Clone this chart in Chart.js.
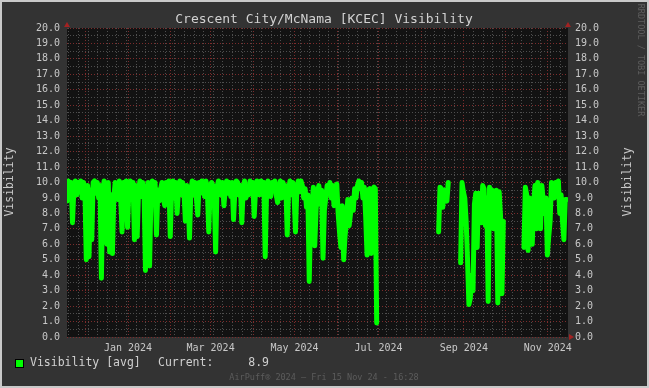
<!DOCTYPE html>
<html>
<head>
<meta charset="utf-8">
<script src="https://cdn.jsdelivr.net/npm/chart.js@4.4.1/dist/chart.umd.min.js"></script>
<style>
  html, body { margin: 0; padding: 0; background: #333; }
  canvas { display: block; }
</style>
</head>
<body>
<canvas id="chart" width="649" height="388"></canvas>
<script>
const chartTitle = 'Crescent City/McNama [KCEC] Visibility';
const axisTitle = 'Visibility';
const seriesLabel = 'Visibility [avg]';
const footerText = 'AirPuff\u00ae 2024 \u2013 Fri 15 Nov 24 - 16:28';
const watermark = 'RRDTOOL / TOBI OETIKER';

// one average per day, first day starts at rangeStart
const rangeStart = Date.UTC(2023, 10, 17, 16, 20);
const rangeEnd = Date.UTC(2024, 10, 15, 16, 20);
const visibility = [
  8.8, 10.1, 9.3, 10.0, 7.4, 9.6, 10.1, 9.2, 10.0, 9.4,
  10.1, 9.0, 10.0, 9.6, 5.0, 9.8, 5.2, 9.5, 6.3, 10.0,
  10.1, 9.3, 10.0, 9.0, 9.8, 3.8, 9.5, 10.1, 9.4, 6.0,
  10.0, 5.5, 9.2, 5.4, 9.0, 10.0, 9.8, 8.9, 10.1, 9.0,
  6.8, 10.0, 9.2, 10.1, 7.1, 9.6, 10.1, 9.0, 10.0, 6.3,
  9.8, 6.5, 9.5, 10.1, 9.1, 10.0, 9.4, 4.3, 9.0, 10.0,
  4.6, 9.2, 10.1, 9.0, 10.0, 6.6, 9.5, 8.8, 9.6, 10.0,
  9.0, 8.5, 10.0, 9.3, 10.1, 6.5, 9.4, 10.1, 9.0, 10.0,
  8.0, 9.6, 10.1, 9.2, 10.0, 9.4, 7.5, 9.8, 9.0, 6.4,
  9.5, 10.1, 9.2, 10.0, 9.0, 7.9, 10.0, 9.3, 10.1, 10.0,
  9.1, 10.1, 9.4, 6.8, 9.6, 10.0, 9.8, 9.0, 5.5, 9.7,
  10.1, 10.0, 9.2, 10.0, 8.5, 9.6, 10.1, 9.3, 10.0, 9.1,
  10.0, 7.6, 9.5, 10.1, 10.0, 9.2, 9.8, 7.4, 9.6, 10.1,
  9.0, 9.7, 9.2, 10.1, 9.4, 10.0, 7.8, 9.5, 10.1, 10.0,
  9.2, 10.1, 9.6, 10.0, 5.2, 9.4, 10.1, 9.3, 9.1, 10.0,
  9.5, 10.1, 9.2, 8.7, 9.6, 10.1, 9.0, 10.0, 9.3, 9.8,
  6.6, 9.5, 10.1, 9.2, 10.0, 9.1, 6.8, 9.6, 10.1, 9.4,
  10.1, 9.8, 9.0, 9.6, 8.4, 9.2, 3.6, 8.0, 8.5, 9.7,
  5.9, 8.3, 9.4, 9.8, 8.6, 9.5, 5.1, 8.2, 9.0, 9.8,
  9.3, 10.0, 9.0, 9.8, 8.5, 9.7, 9.9, 8.0, 6.8, 5.8,
  8.5, 5.0, 6.5, 7.5, 8.9, 7.2, 8.0, 9.0, 8.2, 9.6,
  9.0, 9.8, 10.1, 9.6, 10.0, 9.0, 9.7, 7.8, 5.3, 9.5,
  9.6, 5.4, 9.5, 9.7, 9.6, 0.9, null, null, null, null,
  null, null, null, null, null, null, null, null, null, null,
  null, null, null, null, null, null, null, null, null, null,
  null, null, null, null, null, null, null, null, null, null,
  null, null, null, null, null, null, null, null, null, null,
  6.8, 9.7, 9.6, 8.4, 9.5, 9.0, 8.8, 10.0, null, null,
  null, null, null, null, null, null, 4.8, 10.0, 9.4, 9.0,
  7.5, 5.0, 2.1, 2.5, 4.0, 3.0, 8.6, 9.3, 5.8, 9.3,
  8.0, 7.4, 9.8, 9.6, 7.2, 9.0, 2.3, 9.7, 8.5, 9.5,
  7.0, 8.0, 9.5, 2.2, 9.4, 7.8, 2.8, 7.5, null, null,
  null, null, null, null, null, null, null, null, null, null,
  null, null, 5.8, 9.7, 9.2, 5.6, 9.0, 8.2, 6.0, 8.5,
  9.8, 7.0, 10.0, 9.4, 7.0, 9.8, 8.8, 8.0, 9.0, 5.3,
  6.5, 7.5, 10.0, 9.6, 9.0, 10.0, 9.4, 10.1, 8.0, 9.2,
  7.5, 6.3, 8.9, 8.9, null
];
const currentValue = 8.9;

const xLabels = ['Jan 2024', 'Mar 2024', 'May 2024', 'Jul 2024', 'Sep 2024', 'Nov 2024'];
const xLabelDates = ['2024-01-01', '2024-03-01', '2024-05-01', '2024-07-01', '2024-09-01', '2024-11-01'];
const yMin = 0;
const yMax = 20;

const DAY = 86400000;
const mono = '"DejaVu Sans Mono", "Liberation Mono", monospace';

// grid positions: red at month starts, grey on sundays
const monthStarts = [];
for (let m = 11; m <= 22; m++) monthStarts.push(Date.UTC(2023, m, 1));
const weekLines = [];
for (let t = Date.UTC(2023, 10, 19); t < rangeEnd; t += 7 * DAY) {
  if (!monthStarts.includes(t)) weekLines.push(t);
}
const xGrid = monthStarts.concat(weekLines).sort((a, b) => a - b);
const labelAt = {};
xLabelDates.forEach((d, i) => { labelAt[Date.parse(d)] = xLabels[i]; });

const yGrid = [];
for (let v = yMin; v <= yMax; v += 0.5) yGrid.push(v);

const points = visibility.map((v, i) => ({ x: rangeStart + i * DAY, y: v }));

const rrdLook = {
  id: 'rrdLook',
  beforeDraw(chart) {
    const { ctx, chartArea: a } = chart;
    ctx.save();
    ctx.fillStyle = '#333333';
    ctx.fillRect(0, 0, chart.width, chart.height);
    ctx.fillStyle = '#121212';
    ctx.fillRect(a.left, a.top, a.right - a.left, a.bottom - a.top);
    ctx.restore();
  },
  afterDraw(chart) {
    const { ctx, chartArea: a } = chart;
    ctx.save();

    ctx.textBaseline = 'middle';
    ctx.fillStyle = '#d2d2d2';
    ctx.font = '13px ' + mono;
    ctx.textAlign = 'center';
    ctx.fillText(chartTitle, 324, 20);

    ctx.font = '11.5px ' + mono;
    ctx.fillStyle = '#c8c8c8';
    [10, 628].forEach(x => {
      ctx.save();
      ctx.translate(x, 182);
      ctx.rotate(-Math.PI / 2);
      ctx.fillText(axisTitle, 0, 0);
      ctx.restore();
    });

    ctx.save();
    ctx.font = '8.5px ' + mono;
    ctx.fillStyle = '#5e5e5e';
    ctx.translate(640, 60);
    ctx.rotate(Math.PI / 2);
    ctx.fillText(watermark, 0, 0);
    ctx.restore();

    // legend
    ctx.fillStyle = '#00ff00';
    ctx.fillRect(15, 359, 9, 9);
    ctx.strokeStyle = '#000';
    ctx.lineWidth = 1;
    ctx.strokeRect(15.5, 359.5, 8, 8);
    ctx.fillStyle = '#d0d0d0';
    ctx.font = '11.5px ' + mono;
    ctx.textAlign = 'left';
    ctx.fillText(chart.data.datasets[0].label, 30, 363);
    ctx.fillText('Current:', 158, 363);
    ctx.textAlign = 'right';
    ctx.fillText(currentValue.toFixed(1), 269, 363);

    ctx.textAlign = 'center';
    ctx.font = '8.5px ' + mono;
    ctx.fillStyle = '#5c5c5c';
    ctx.fillText(footerText, 324, 378);

    // axis arrows
    ctx.fillStyle = '#a32222';
    [a.left, a.right].forEach(x => {
      ctx.beginPath();
      ctx.moveTo(x - 3, a.top - 1);
      ctx.lineTo(x + 3, a.top - 1);
      ctx.lineTo(x, a.top - 6);
      ctx.closePath();
      ctx.fill();
    });
    ctx.beginPath();
    ctx.moveTo(a.right + 1, a.bottom - 3);
    ctx.lineTo(a.right + 1, a.bottom + 3);
    ctx.lineTo(a.right + 6, a.bottom);
    ctx.closePath();
    ctx.fill();

    // outer frame
    ctx.strokeStyle = '#c9c9c9';
    ctx.lineWidth = 2;
    ctx.strokeRect(1, 1, chart.width - 2, chart.height - 2);
    ctx.restore();
  }
};

const tickFont = { family: mono, size: 10 };
const yTickLabel = v => Number.isInteger(v) ? v.toFixed(1) : '';

new Chart(document.getElementById('chart'), {
  type: 'line',
  data: {
    datasets: [{
      label: seriesLabel,
      data: points,
      borderColor: '#00ff00',
      backgroundColor: '#00ff00',
      borderWidth: 5,
      borderCapStyle: 'round',
      borderJoinStyle: 'round',
      pointRadius: 0,
      tension: 0,
      spanGaps: false
    }]
  },
  options: {
    responsive: false,
    animation: false,
    devicePixelRatio: 1,
    layout: { padding: { top: 28, left: 0, right: 0, bottom: 0 } },
    plugins: {
      legend: { display: false },
      title: { display: false },
      tooltip: { enabled: false }
    },
    scales: {
      x: {
        type: 'linear',
        min: rangeStart,
        max: rangeEnd,
        afterBuildTicks: s => { s.ticks = xGrid.map(v => ({ value: v })); },
        afterFit: s => { s.height = 51; },
        ticks: {
          autoSkip: false,
          maxRotation: 0,
          padding: 5,
          color: '#c8c8c8',
          font: tickFont,
          callback: v => labelAt[v] || ''
        },
        grid: {
          drawTicks: false,
          color: c => monthStarts.includes(c.tick.value) ? '#7c2c2c' : '#4e4e4e'
        },
        border: { display: false, dash: [1, 2] }
      },
      y: {
        position: 'left',
        min: yMin,
        max: yMax,
        afterBuildTicks: s => { s.ticks = yGrid.map(v => ({ value: v })); },
        afterFit: s => { s.width = 67; },
        ticks: { autoSkip: false, padding: 7, color: '#c8c8c8', font: tickFont, callback: yTickLabel },
        grid: {
          drawTicks: false,
          color: c => Number.isInteger(c.tick.value) ? '#7c2c2c' : '#4e4e4e'
        },
        border: { display: false, dash: [1, 2] }
      },
      y2: {
        position: 'right',
        min: yMin,
        max: yMax,
        afterBuildTicks: s => { s.ticks = yGrid.map(v => ({ value: v })); },
        afterFit: s => { s.width = 81; },
        ticks: { autoSkip: false, padding: 7, color: '#c8c8c8', font: tickFont, callback: yTickLabel },
        grid: { display: false, drawTicks: false },
        border: { display: false }
      }
    }
  },
  plugins: [rrdLook]
});
</script>
</body>
</html>
